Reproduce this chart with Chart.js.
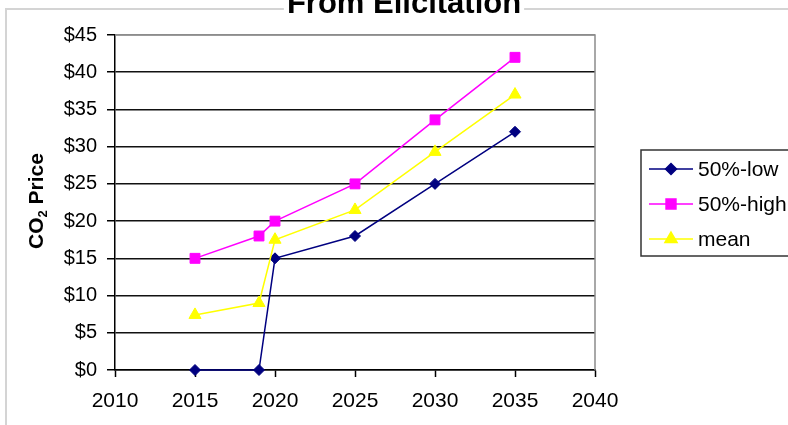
<!DOCTYPE html>
<html>
<head>
<meta charset="utf-8">
<script src="https://cdn.jsdelivr.net/npm/chart.js@4"></script>
<style>
  html, body { margin: 0; padding: 0; background: #fff; }
  #wrap { width: 788px; height: 425px; position: relative; }
</style>
</head>
<body>
<div id="wrap"><canvas id="c" width="788" height="425"></canvas></div>
<script>
// Elicited CO2 price paths ($/ton) by year
const years = [2015, 2019, 2020, 2025, 2030, 2035];
const low50 = [0, 0, 15, 18, 25, 32];
const high50 = [15, 18, 20, 25, 33.6, 42];
const meanPrice = [7.4, 9, 17.5, 21.5, 29.3, 37];
const seriesNames = ['50%-low', '50%-high', 'mean'];
const yTicks = [0, 5, 10, 15, 20, 25, 30, 35, 40, 45];
const xTicks = [2010, 2015, 2020, 2025, 2030, 2035, 2040];
const chartTitle = 'From Elicitation';

const FONT = '"Liberation Sans", Arial, sans-serif';

function toPoints(vals) {
  return years.map((y, i) => ({ x: y, y: vals[i] }));
}

// frame, title, axis title and boxed legend
const decor = {
  id: 'decor',
  beforeDraw(chart) {
    const ctx = chart.ctx;
    ctx.save();
    ctx.fillStyle = '#fff';
    ctx.fillRect(0, 0, chart.width, chart.height);
    ctx.strokeStyle = '#d4d4d4';
    ctx.lineWidth = 2;
    ctx.beginPath();
    ctx.moveTo(chart.width, 9);
    ctx.lineTo(6, 9);
    ctx.lineTo(6, chart.height);
    ctx.stroke();
    ctx.restore();
  },
  beforeDatasetsDraw(chart) {
    const { ctx, chartArea: a } = chart;
    ctx.save();
    ctx.strokeStyle = '#8c8c8c';
    ctx.lineWidth = 1.5;
    ctx.beginPath();
    ctx.moveTo(a.left, a.top);
    ctx.lineTo(a.right, a.top);
    ctx.lineTo(a.right, a.bottom);
    ctx.stroke();
    ctx.restore();
  },
  afterDraw(chart) {
    const ctx = chart.ctx;
    ctx.save();
    // title
    ctx.font = 'bold 31px ' + FONT;
    const tw = ctx.measureText(chartTitle).width;
    const cx = 404;
    ctx.fillStyle = '#fff';
    ctx.fillRect(cx - tw / 2 - 3, 0, tw + 6, 15);
    ctx.fillStyle = '#000';
    ctx.textAlign = 'center';
    ctx.textBaseline = 'alphabetic';
    ctx.fillText(chartTitle, cx, 13);

    // y axis title with subscript
    ctx.translate(37, 201);
    ctx.rotate(-Math.PI / 2);
    const big = 'bold 21px ' + FONT, small = 'bold 13px ' + FONT;
    ctx.font = big;
    const w1 = ctx.measureText('CO').width;
    const w3 = ctx.measureText(' Price').width;
    ctx.font = small;
    const w2 = ctx.measureText('2').width;
    let x = -(w1 + w2 + w3) / 2;
    ctx.textAlign = 'left';
    ctx.textBaseline = 'middle';
    ctx.font = big;
    ctx.fillText('CO', x, 0);
    x += w1;
    ctx.font = small;
    ctx.fillText('2', x, 6);
    x += w2;
    ctx.font = big;
    ctx.fillText(' Price', x, 0);
    ctx.restore();

    // legend box
    ctx.save();
    ctx.fillStyle = '#fff';
    ctx.fillRect(641, 150, 160, 106);
    ctx.strokeStyle = '#333';
    ctx.lineWidth = 1.5;
    ctx.strokeRect(641, 150, 160, 106);
    ctx.font = '21px ' + FONT;
    ctx.textBaseline = 'middle';
    ctx.textAlign = 'left';
    chart.data.datasets.forEach((ds, i) => {
      const y = 169 + i * 35;
      ctx.strokeStyle = ds.borderColor;
      ctx.lineWidth = ds.borderWidth;
      ctx.beginPath();
      ctx.moveTo(649, y);
      ctx.lineTo(693, y);
      ctx.stroke();
      ctx.fillStyle = ds.pointBackgroundColor;
      ctx.strokeStyle = ds.pointBorderColor;
      Chart.helpers.drawPoint(ctx, {
        pointStyle: ds.pointStyle, radius: ds.pointRadius, rotation: 0, borderWidth: 1
      }, 671, y);
      ctx.fillStyle = '#000';
      ctx.fillText(ds.label, 698, y + 1);
    });
    ctx.restore();
  }
};

const mk = (label, vals, color, style, r, order) => ({
  label,
  data: toPoints(vals),
  borderColor: color,
  backgroundColor: color,
  pointBackgroundColor: color,
  pointBorderColor: color,
  borderWidth: 1.5,
  pointStyle: style,
  pointRadius: r,
  pointBorderWidth: 1,
  tension: 0,
  clip: false,
  order
});

new Chart(document.getElementById('c'), {
  type: 'line',
  data: {
    datasets: [
      mk(seriesNames[0], low50, '#000080', 'rectRot', 5.5, 2),
      mk(seriesNames[1], high50, '#ff00ff', 'rect', 7, 1),
      mk(seriesNames[2], meanPrice, '#ffff00', 'triangle', 7, 0)
    ]
  },
  options: {
    responsive: false,
    animation: false,
    devicePixelRatio: 1,
    layout: { padding: { left: 0, top: 35, right: 193, bottom: 0 } },
    plugins: { legend: { display: false }, tooltip: { enabled: false }, title: { display: false } },
    scales: {
      x: {
        type: 'linear',
        min: xTicks[0],
        max: xTicks[xTicks.length - 1],
        afterBuildTicks(s) { s.ticks = xTicks.map(v => ({ value: v })); },
        afterFit(s) { s.height = 55; },
        grid: { drawOnChartArea: false, drawTicks: true, tickLength: 7, tickColor: '#000', tickWidth: 1.5 },
        border: { color: '#000', width: 1.5 },
        ticks: {
          color: '#000', font: { family: FONT, size: 21 }, padding: 12, maxRotation: 0,
          callback: v => String(v)
        }
      },
      y: {
        type: 'linear',
        min: yTicks[0],
        max: yTicks[yTicks.length - 1],
        afterBuildTicks(s) { s.ticks = yTicks.map(v => ({ value: v })); },
        afterFit(s) { s.width = 115; },
        grid: {
          color: c => (c.tick && c.tick.value === 45 ? '#8c8c8c' : '#111'),
          lineWidth: 1.5, tickLength: 8, tickColor: '#000', tickWidth: 1.5
        },
        border: { color: '#000', width: 1.5 },
        ticks: {
          color: '#000', font: { family: FONT, size: 20 }, padding: 10,
          callback: v => '$' + v
        }
      }
    }
  },
  plugins: [decor]
});
</script>
</body>
</html>
